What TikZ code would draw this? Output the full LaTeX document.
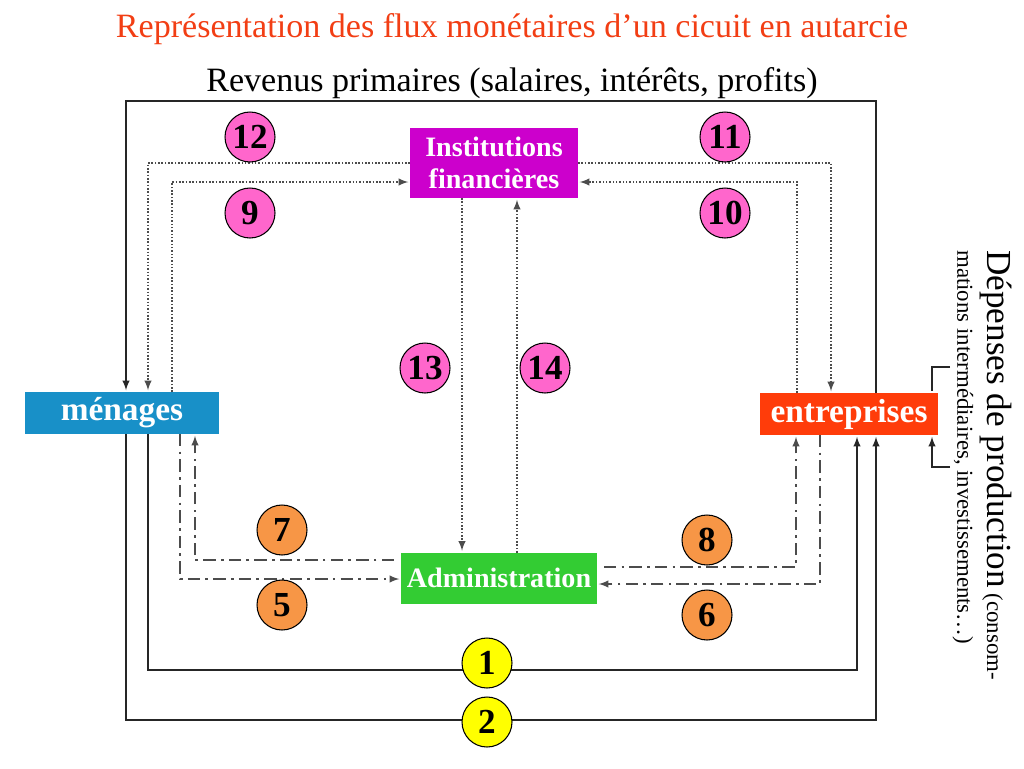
\documentclass[tikz,border=0pt]{standalone}
\usepackage{fontspec}
\setmainfont{Liberation Serif}
\definecolor{titlered}{HTML}{F23E14}
\definecolor{menblue}{HTML}{1890C8}
\definecolor{entred}{HTML}{FF3C0A}
\definecolor{instmag}{HTML}{CC00CC}
\definecolor{admgreen}{HTML}{33CC33}
\definecolor{numpink}{HTML}{FF66CC}
\definecolor{numorange}{HTML}{F79646}
\definecolor{numyellow}{HTML}{FFFF00}
\tikzset{
    flux box/.style={
        rectangle,
        draw=none,
        inner sep=0pt,
        outer sep=0pt,
        align=center,
        text=white,
        font=\bfseries\fontsize{19}{21}\selectfont
    },
    flux num/.style={
        circle,
        draw=black,
        line width=0.6pt,
        minimum size=1cm,
        inner sep=0pt,
        font=\bfseries\fontsize{20}{20}\selectfont
    },
    flux solid/.style={draw=black!85, line width=0.9pt, shorten >=1pt},
    flux dotted/.style={draw=black!70, line width=0.9pt, densely dotted, shorten >=1pt},
    flux dashdot/.style={draw=black!70, line width=0.9pt, dash pattern=on 7pt off 3pt on 1.5pt off 3pt, shorten >=1pt},
    >=latex
}

\begin{document}
\begin{tikzpicture}[x=0.02cm, y=-0.02cm]
\useasboundingbox (0,0) rectangle (1024,768);

% Titles
\node[text=titlered, font=\fontsize{19.4}{21}\selectfont] (title) at (512,29)
    {Représentation des flux monétaires d’un cicuit en autarcie};
\node[font=\fontsize{19.4}{21}\selectfont] (rev) at (512,83)
    {Revenus primaires (salaires, intérêts, profits)};

% The four agents
\node[flux box, fill=menblue, minimum width=3.9cm, minimum height=0.84cm] (men) at (122,413) {ménages};
\node[flux box, fill=entred, minimum width=3.56cm, minimum height=0.84cm] (ent) at (849,414) {entreprises};
\node[flux box, fill=instmag, minimum width=3.36cm, minimum height=1.4cm,
      font=\bfseries\fontsize{16}{18}\selectfont] (inst) at (494,163) {Institutions\\financières};
\node[flux box, fill=admgreen, minimum width=3.92cm, minimum height=1.02cm,
      font=\bfseries\fontsize{16}{18}\selectfont] (adm) at (499,578) {Administration};

% Corner points of the flows
\coordinate (rTop) at (876,101);
\coordinate (lTop) at (126,101);
\coordinate (c1a) at (148,670);
\coordinate (c1b) at (857,670);
\coordinate (c2a) at (126,720);
\coordinate (c2b) at (876,720);
\coordinate (c12) at (148,163);
\coordinate (c9) at (172,182);
\coordinate (c11) at (831,163);
\coordinate (c10) at (797,182);
\coordinate (c13) at (462,0);
\coordinate (c14) at (517,0);
\coordinate (c7) at (195,560);
\coordinate (c5) at (180,579);
\coordinate (c8) at (796,567);
\coordinate (c6) at (820,584);
\coordinate (bTop) at (950,367);
\coordinate (bBot) at (950,467);
\coordinate (bx) at (932,0);

% Real flows
\draw[flux solid,->] (ent.north -| rTop) -- (rTop) -- (lTop) -- (men.north -| lTop);
\draw[flux solid,->] (men.south -| c1a) -- (c1a) -- (c1b) -- (ent.south -| c1b);
\draw[flux solid,->] (men.south -| c2a) -- (c2a) -- (c2b) -- (ent.south -| c2b);
\draw[flux solid] (bTop) -| (ent.north -| bx);
\draw[flux solid,->] (bBot) -| (ent.south -| bx);

% Financial flows
\draw[flux dotted,->] (inst.west |- c12) -| (men.north -| c12);
\draw[flux dotted,->] (men.north -| c9) |- (inst.west |- c9);
\draw[flux dotted,->] (inst.east |- c11) -| (ent.north -| c11);
\draw[flux dotted,->] (ent.north -| c10) |- (inst.east |- c10);
\draw[flux dotted,->] (inst.south -| c13) -- (adm.north -| c13);
\draw[flux dotted,->] (adm.north -| c14) -- (inst.south -| c14);

% Flows with the administration
\draw[flux dashdot,->, shorten <=4pt] (adm.west |- c7) -| (men.south -| c7);
\draw[flux dashdot,->] (men.south -| c5) |- (adm.west |- c5);
\draw[flux dashdot,->, shorten <=4pt] (adm.east |- c8) -| (ent.south -| c8);
\draw[flux dashdot,->] (ent.south -| c6) |- (adm.east |- c6);

% Numbers
\node[flux num, fill=numyellow] (n1) at (487,663) {1};
\node[flux num, fill=numyellow] (n2) at (487,722) {2};
\node[flux num, fill=numorange] (n5) at (282,605) {5};
\node[flux num, fill=numorange] (n6) at (707,615) {6};
\node[flux num, fill=numorange] (n7) at (282,530) {7};
\node[flux num, fill=numorange] (n8) at (707,540) {8};
\node[flux num, fill=numpink] (n9) at (250,213) {9};
\node[flux num, fill=numpink] (n10) at (725,213) {10};
\node[flux num, fill=numpink] (n11) at (725,137) {11};
\node[flux num, fill=numpink] (n12) at (250,137) {12};
\node[flux num, fill=numpink] (n13) at (425,368) {13};
\node[flux num, fill=numpink] (n14) at (545,368) {14};

% Side label
\node[rotate=-90, anchor=north west, align=left, inner sep=0pt,
      font=\fontsize{13}{17}\selectfont] (dep) at (1012,250)
    {{\fontsize{20}{17}\selectfont Dépenses de production} (consom-\\
     mations intermédiaires, investissements…)};

\end{tikzpicture}
\end{document}
